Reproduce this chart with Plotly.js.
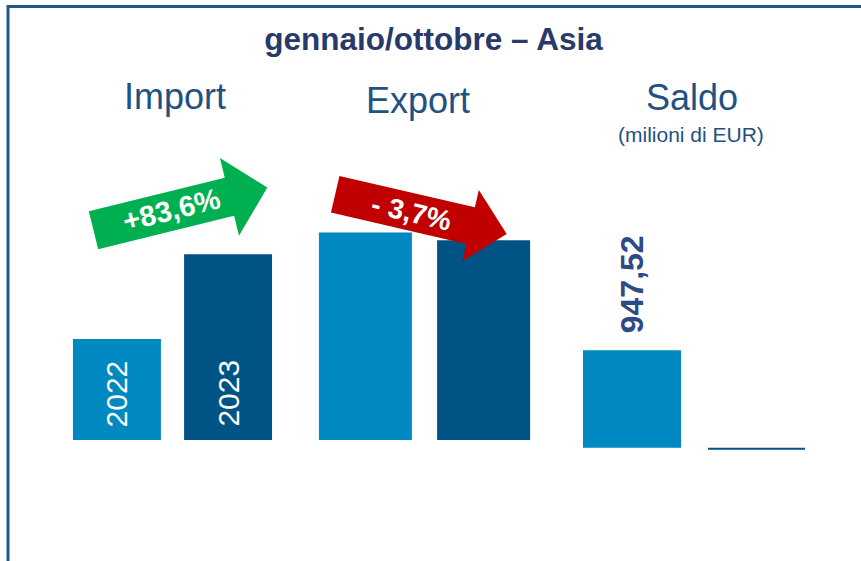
<!DOCTYPE html>
<html><head><meta charset="utf-8">
<script src="https://cdn.plot.ly/plotly-3.0.1.min.js"></script>
<style>html,body{margin:0;padding:0;background:#fff}</style>
</head><body><div id="chart" style="width:861px;height:561px"></div>
<script>
// ---- data ----
const groups = ["Import", "Export"];
const years = ["2022", "2023"];
const values2022 = [902, 1850];
const values2023 = [1656, 1782];
const saldoCategory = ["Saldo"];
const saldo2022 = [947.52];
const saldo2023 = [-20];
const saldoLabel = "947,52";
const changeLabels = ["+83,6%", "- 3,7%"];
const headerLabels = ["Import", "Export", "Saldo"];
const unitLabel = "(milioni di EUR)";
const titleText = "gennaio/ottobre – Asia";

// ---- style / geometry ----
const W = 861, H = 561;
const FONT = "Liberation Sans, Arial, sans-serif";
const cLight = "#0088C0", cDark = "#005485";
const textBlue = "#1F5182", titleBlue = "#283A6B", saldoNumBlue = "#2E4A86";
const px = v => v / W;
const py = v => 1 - v / H;

const off22 = [-0.395, -0.419], wid22 = [0.349, 0.369];
const off23 = [0.046, 0.050], wid23 = [0.349, 0.369];
const offS22 = [-0.4405], widS22 = [0.389];
const offS23 = [0.0556], widS23 = [0.385];

const traces = [
  {type: "bar", x: groups, y: values2022, name: years[0], xaxis: "x", yaxis: "y",
   offset: off22, width: wid22, marker: {color: cLight}, hoverinfo: "skip"},
  {type: "bar", x: groups, y: values2023, name: years[1], xaxis: "x", yaxis: "y",
   offset: off23, width: wid23, marker: {color: cDark}, hoverinfo: "skip"},
  {type: "bar", x: saldoCategory, y: saldo2022, name: years[0], xaxis: "x2", yaxis: "y2",
   offset: offS22, width: widS22, marker: {color: cLight}, hoverinfo: "skip"},
  {type: "bar", x: saldoCategory, y: saldo2023, name: years[1], xaxis: "x2", yaxis: "y2",
   offset: offS23, width: widS23, marker: {color: cDark}, hoverinfo: "skip"}
];

function arrowPath(ox, oy, angDeg, len, bodyHalf, headStart, headHalf) {
  const a = angDeg * Math.PI / 180;
  const u = [Math.cos(a), Math.sin(a)], n = [-Math.sin(a), Math.cos(a)];
  const pts = [[0, -bodyHalf], [headStart, -bodyHalf], [headStart, -headHalf], [len, 0],
               [headStart, headHalf], [headStart, bodyHalf], [0, bodyHalf]];
  return pts.map((p, i) => {
    const X = ox + p[0] * u[0] + p[1] * n[0];
    const Y = oy + p[0] * u[1] + p[1] * n[1];
    return (i ? "L" : "M") + px(X).toFixed(5) + "," + py(Y).toFixed(5);
  }).join(" ") + " Z";
}

const shapes = [
  {type: "rect", xref: "paper", yref: "paper", x0: px(8), x1: 1.05, y0: -0.05, y1: py(6.5),
   line: {color: "#1C5A8A", width: 3}, fillcolor: "rgba(0,0,0,0)", layer: "below"},
  {type: "path", xref: "paper", yref: "paper", path: arrowPath(93.5, 230.2, -13.8, 179, 19.6, 140, 40),
   fillcolor: "#00B050", line: {width: 0}},
  {type: "path", xref: "paper", yref: "paper", path: arrowPath(335.2, 194.3, 13, 176, 18.8, 139, 36.6),
   fillcolor: "#C00000", line: {width: 0}}
];

const ann = [];
// headers
ann.push({xref: "paper", yref: "paper", x: px(174.5), y: py(96), text: headerLabels[0], showarrow: false,
  xanchor: "center", yanchor: "middle", font: {family: FONT, size: 36, color: textBlue}});
ann.push({xref: "paper", yref: "paper", x: px(417.5), y: py(100.5), text: headerLabels[1], showarrow: false,
  xanchor: "center", yanchor: "middle", font: {family: FONT, size: 36, color: textBlue}});
ann.push({xref: "paper", yref: "paper", x: px(691.5), y: py(97.5), text: headerLabels[2], showarrow: false,
  xanchor: "center", yanchor: "middle", font: {family: FONT, size: 36, color: textBlue}});
ann.push({xref: "paper", yref: "paper", x: px(690.5), y: py(134), text: unitLabel, showarrow: false,
  xanchor: "center", yanchor: "middle", font: {family: FONT, size: 21, color: textBlue}});
// year labels in Import bars
ann.push({xref: "x", yref: "y", x: 0 + off22[0] + wid22[0] / 2, y: 0, text: years[0], textangle: -90,
  showarrow: false, xanchor: "center", yanchor: "bottom", yshift: 11,
  font: {family: FONT, size: 30, color: "#FFFFFF"}});
ann.push({xref: "x", yref: "y", x: 0 + off23[0] + wid23[0] / 2, y: 0, text: years[1], textangle: -90,
  showarrow: false, xanchor: "center", yanchor: "bottom", yshift: 11,
  font: {family: FONT, size: 30, color: "#FFFFFF"}});
// saldo value
ann.push({xref: "x2", yref: "y2", x: 0 + offS22[0] + widS22[0] / 2, y: saldo2022[0], text: saldoLabel,
  textangle: -90, showarrow: false, xanchor: "center", yanchor: "bottom", yshift: 15,
  font: {family: FONT, size: 32, color: saldoNumBlue, weight: "bold"}});
// arrow labels
ann.push({xref: "paper", yref: "paper", x: px(171), y: py(210), text: changeLabels[0], textangle: -14,
  showarrow: false, xanchor: "center", yanchor: "middle",
  font: {family: FONT, size: 29, color: "#FFFFFF", weight: "bold"}});
ann.push({xref: "paper", yref: "paper", x: px(411.5), y: py(212), text: changeLabels[1], textangle: 13,
  showarrow: false, xanchor: "center", yanchor: "middle",
  font: {family: FONT, size: 28, color: "#FFFFFF", weight: "bold"}});

const hidden = {showgrid: false, zeroline: false, showline: false, showticklabels: false, ticks: "", fixedrange: true};

const layout = {
  width: W, height: H,
  margin: {l: 0, r: 0, t: 0, b: 0, pad: 0},
  paper_bgcolor: "#FFFFFF", plot_bgcolor: "rgba(0,0,0,0)",
  showlegend: false, barmode: "overlay",
  title: {text: titleText, xref: "paper", yref: "container", x: px(433.5), y: py(39),
          xanchor: "center", yanchor: "middle",
          font: {family: FONT, size: 31.5, color: titleBlue, weight: "bold"}},
  xaxis: Object.assign({type: "category", domain: [px(46.5), px(550.5)], range: [-0.5, 1.5], anchor: "y"}, hidden),
  yaxis: Object.assign({domain: [(H - 440) / H, (H - 440 + 336.3) / H], range: [0, 3000], anchor: "x"}, hidden),
  xaxis2: Object.assign({type: "category", domain: [px(568), px(820)], range: [-0.5, 0.5], anchor: "y2"}, hidden),
  yaxis2: Object.assign({domain: [(H - 468.3) / H, (H - 159.6) / H], range: [-200, 2800], anchor: "x2"}, hidden),
  shapes: shapes,
  annotations: ann
};

Plotly.newPlot("chart", traces, layout, {displayModeBar: false, staticPlot: true});
</script>
</body></html>
